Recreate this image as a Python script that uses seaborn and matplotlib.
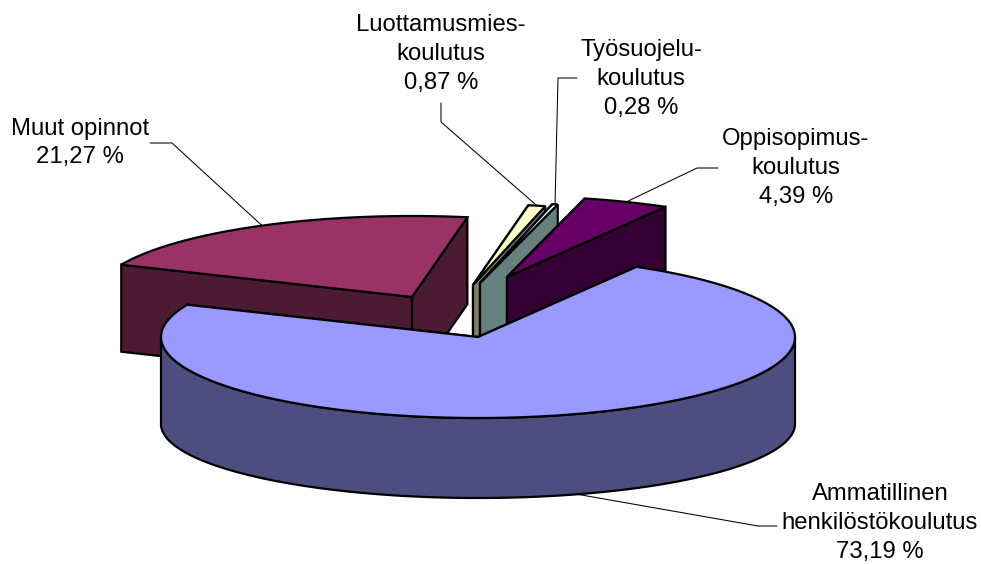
import numpy as np
import pandas as pd
import seaborn as sns
import matplotlib.pyplot as plt

nimet = ['Ammatillinen\nhenkilöstökoulutus', 'Muut opinnot', 'Luottamusmies-\nkoulutus',
         'Työsuojelu-\nkoulutus', 'Oppisopimus-\nkoulutus']
osuudet = [73.19, 21.27, 0.87, 0.28, 4.39]
varit = ['#9999FF', '#993366', '#FFFFCC', '#CCFFFF', '#660066']
sivuvarit = ['#4D4D80', '#4D1A33', '#808066', '#668080', '#330033']

# kuvan geometria pikseleina
keski_x, keski_y = 478, 337
rx, ry = 317, 81
syvyys, ala_ry = 87, 74
alku = 60
siirto_x = [0, -66, -5, 2, 29]
siirto_y = [0, -40, -52, -54, -60]
piirtojarjestys = [1, 2, 3, 4, 0]

teksti_x = [880, 80, 441, 641, 796]
teksti_y = [523, 143, 54, 79, 168]
polvi = [[(758, 526), (777, 526)], [(172, 143), (150, 143)], [(441, 122), (441, 103)],
         [(558, 78), (577, 78)], [(697, 168), (718, 168)]]

sns.set_theme(style='white')
plt.rcParams['font.family'] = ['Liberation Sans', 'DejaVu Sans']

base = pd.DataFrame({'nimi': nimet, 'osuus': osuudet, 'vari': varit, 'sivu': sivuvarit,
                     'dx': siirto_x, 'dy': siirto_y})
base['kulma'] = base['osuus'] / base['osuus'].sum() * 360
base['loppu'] = alku - base['kulma'].cumsum()
base['alku'] = base['loppu'] + base['kulma']

fig, ax = plt.subplots(figsize=(9.81, 5.64), dpi=100)
ax.set_position([0, 0, 1, 1])
ax.set_xlim(0, 981)
ax.set_ylim(564, 0)
ax.axis('off')


def kaari(cx, cy, a, b, korkeus=ry):
    t = np.radians(np.linspace(a, b, 200))
    return cx + rx * np.cos(t), cy - korkeus * np.sin(t)


viiva = dict(edgecolor='black', linewidth=1.6, joinstyle='miter')

for i in piirtojarjestys:
    r = base.loc[i]
    cx, cy = keski_x + r['dx'], keski_y + r['dy']

    # leikkauspinnat
    for k in [r['alku'], r['loppu']]:
        x0, y0 = kaari(cx, cy, k, k)
        ax.fill([cx, x0[0], x0[0], cx], [cy, y0[0], y0[0] + syvyys, cy + syvyys],
                facecolor=r['sivu'], **viiva)

    # reunapinta vain edessa olevalle kaarelle
    a = min(r['alku'], -0.0)
    b = max(r['loppu'], -180.0)
    if a > b:
        x1, y1 = kaari(cx, cy, a, b)
        x2, y2 = kaari(cx, cy + syvyys, b, a, ala_ry)
        ax.fill(np.r_[x1, x2], np.r_[y1, y2], facecolor=r['sivu'], **viiva)

    # kansi
    x, y = kaari(cx, cy, r['alku'], r['loppu'])
    ax.fill(np.r_[cx, x], np.r_[cy, y], facecolor=r['vari'], **viiva)

for i, r in base.iterrows():
    cx, cy = keski_x + r['dx'], keski_y + r['dy']
    k = (r['alku'] + r['loppu']) / 2
    ax_x, ax_y = kaari(cx, cy, k, k)
    if np.sin(np.radians(k)) < 0:
        ax_x, ax_y = kaari(cx, cy + syvyys, k, k, ala_ry)
    pisteet = [(ax_x[0], ax_y[0])] + polvi[i]
    ax.plot([p[0] for p in pisteet], [p[1] for p in pisteet], color='black', lw=0.75, zorder=5)
    prosentti = f"{r['osuus']:.2f}".replace('.', ',') + ' %'
    ax.text(teksti_x[i], teksti_y[i], f"{r['nimi']}\n{prosentti}", ha='center', va='center',
            fontsize=17.2, color='black', linespacing=1.41, zorder=6)

plt.savefig('out.png', dpi=100)
